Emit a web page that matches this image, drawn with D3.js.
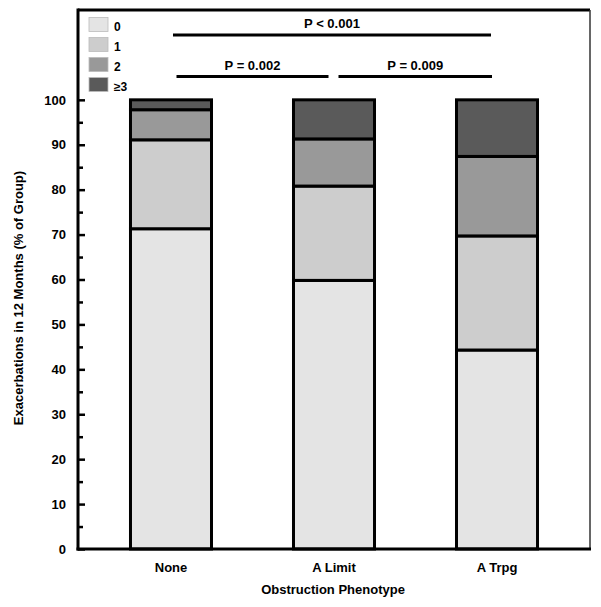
<!DOCTYPE html>
<html><head><meta charset="utf-8">
<script src="https://cdn.jsdelivr.net/npm/d3@7"></script>
<style>body{margin:0;background:#fff}text{font-family:"Liberation Sans",Arial,sans-serif;font-weight:bold}</style>
</head><body><svg id="c" width="601" height="607"></svg>
<script>
const categories = ["None", "A Limit", "A Trpg"];
const seriesKeys = ["0", "1", "2", "≥3"];
const values0 = [71.3, 59.8, 44.3];
const values1 = [19.8, 21.0, 25.4];
const values2 = [6.7, 10.5, 17.7];
const values3 = [2.2, 8.7, 12.6];
const colors = ["#e4e4e4", "#cdcdcd", "#999999", "#5a5a5a"];
const yTicks = [0,10,20,30,40,50,60,70,80,90,100];
const yMinorTicks = [5,15,25,35,45,55,65,75,85,95];
const pBrackets = [
  {from: "None", to: "A Trpg", label: "P < 0.001", level: 0, padL: 2, padR: 6},
  {from: "None", to: "A Limit", label: "P = 0.002", level: 1, padL: 5.5, padR: 5.5},
  {from: "A Limit", to: "A Trpg", label: "P = 0.009", level: 1, padL: 4.5, padR: 5}
];

const svg = d3.select("#c");
const L = 78, R = 590, T = 10, B = 549;
const x = d3.scaleBand().domain(categories).range([L, R]).paddingInner(0.503).paddingOuter(0.322);
const y = d3.scaleLinear().domain([0, 120]).range([B, T]);

const rows = categories.map((c, i) => ({cat: c, "0": values0[i], "1": values1[i], "2": values2[i], "≥3": values3[i]}));
const stack = d3.stack().keys(seriesKeys)(rows);

// frame: top and right
svg.append("line").attr("x1", L).attr("x2", R).attr("y1", T).attr("y2", T).attr("stroke", "#000").attr("stroke-width", 3);
svg.append("line").attr("x1", R).attr("x2", R).attr("y1", T).attr("y2", B).attr("stroke", "#333").attr("stroke-width", 1.5);

// bars
stack.forEach((s, k) => {
  svg.append("g").selectAll("rect").data(s).join("rect")
    .attr("x", d => x(d.data.cat))
    .attr("width", x.bandwidth())
    .attr("y", d => y(d[1]))
    .attr("height", d => y(d[0]) - y(d[1]))
    .attr("fill", colors[k])
    .attr("stroke", "#000").attr("stroke-width", 3);
});

// y axis
const yAxis = d3.axisLeft(y).tickValues(yTicks).tickSize(-7).tickPadding(12).tickFormat(d3.format("d"));
const gy = svg.append("g").attr("transform", `translate(${L},0)`).call(yAxis);
gy.select(".domain").remove();
gy.selectAll(".tick line").attr("stroke", "#000").attr("stroke-width", 2.5);
gy.selectAll(".tick text").attr("font-size", 13).attr("fill", "#000").attr("font-family", '"Liberation Sans",Arial,sans-serif').attr("font-weight", "bold");
const gym = svg.append("g").attr("transform", `translate(${L},0)`).call(d3.axisLeft(y).tickValues(yMinorTicks).tickSize(-5).tickFormat(""));
gym.select(".domain").remove();
gym.selectAll(".tick line").attr("stroke", "#000").attr("stroke-width", 2.5);

// x axis
const gx = svg.append("g").attr("transform", `translate(0,${B})`).call(d3.axisBottom(x).tickSize(0).tickPadding(14));
gx.select(".domain").remove();
gx.selectAll(".tick text").attr("font-size", 13).attr("fill", "#000").attr("font-family", '"Liberation Sans",Arial,sans-serif').attr("font-weight", "bold");

// axis lines (left, bottom)
svg.append("line").attr("x1", L).attr("x2", L).attr("y1", T - 1.5).attr("y2", B + 1.5).attr("stroke", "#000").attr("stroke-width", 3);
svg.append("line").attr("x1", L - 1.5).attr("x2", R + 1).attr("y1", B).attr("y2", B).attr("stroke", "#000").attr("stroke-width", 3);

// axis titles
svg.append("text").attr("x", 333).attr("y", 594).attr("text-anchor", "middle").attr("font-size", 13).text("Obstruction Phenotype");
svg.append("text").attr("transform", "translate(23,298) rotate(-90)").attr("text-anchor", "middle").attr("font-size", 13).text("Exacerbations in 12 Months (% of Group)");

// legend
const lg = svg.append("g");
seriesKeys.forEach((k, i) => {
  lg.append("rect").attr("x", 89).attr("y", 17.5 + i * 20).attr("width", 19).attr("height", 14)
    .attr("fill", colors[i]).attr("stroke", "#bbb").attr("stroke-width", 0.8);
  lg.append("text").attr("x", 114).attr("y", 30.5 + i * 20).attr("font-size", 12).text(k);
});

// p-value brackets
const levelY = [35, 76.5];
pBrackets.forEach(p => {
  const a = x(p.from) + x.bandwidth() / 2 + p.padL;
  const b = x(p.to) + x.bandwidth() / 2 - p.padR;
  svg.append("line").attr("x1", a).attr("x2", b).attr("y1", levelY[p.level]).attr("y2", levelY[p.level]).attr("stroke", "#000").attr("stroke-width", 3);
  svg.append("text").attr("x", (a + b) / 2).attr("y", levelY[p.level] - 7).attr("text-anchor", "middle").attr("font-size", 13).text(p.label);
});
</script></body></html>
